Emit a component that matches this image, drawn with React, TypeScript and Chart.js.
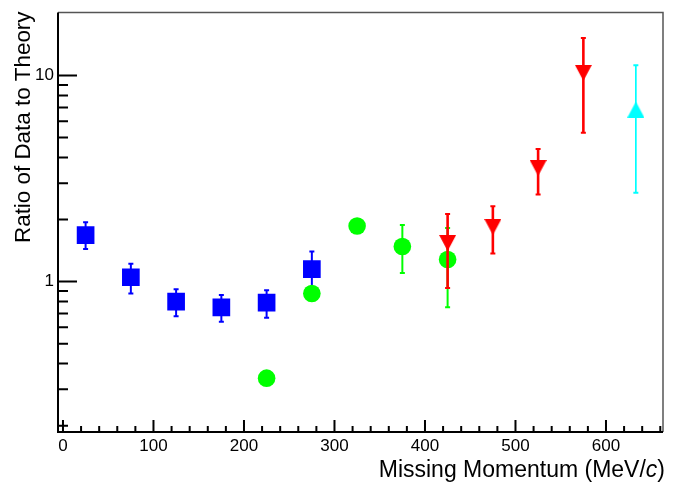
import { useEffect, useRef } from "react";
import { Chart, registerables } from "chart.js";

Chart.register(...registerables);

// Ratio of measured cross section to theory vs. missing momentum (MeV/c).
// Each series: bin centres, central ratio, lower and upper error limits.
const blueMomentum = [25, 75, 125, 175, 225, 275];
const blueRatio = [1.68, 1.05, 0.8, 0.75, 0.79, 1.15];
const blueLow = [1.44, 0.876, 0.679, 0.638, 0.667, 0.94];
const blueHigh = [1.94, 1.22, 0.918, 0.86, 0.909, 1.4];

const greenMomentum = [225, 275, 325, 375, 425];
const greenRatio = [0.34, 0.876, 1.86, 1.48, 1.28];
const greenLow = [0.34, 0.876, 1.86, 1.1, 0.75];
const greenHigh = [0.34, 0.876, 1.86, 1.88, 1.82];

const redMomentum = [425, 475, 525, 575];
const redRatio = [1.54, 1.84, 3.56, 10.3];
const redLow = [0.93, 1.37, 2.65, 5.27];
const redHigh = [2.13, 2.32, 4.4, 15.2];

const cyanMomentum = [633];
const cyanRatio = [6.84];
const cyanLow = [2.7];
const cyanHigh = [11.2];

// Axis ticks
const xMajorTicks = [0, 100, 200, 300, 400, 500, 600];
const xMinorStep = 20;
const yMajorTicks = [1, 10];
const yMinorTicks = [0.2, 0.3, 0.4, 0.5, 0.6, 0.7, 0.8, 0.9, 2, 3, 4, 5, 6, 7, 8, 9];

const X_MIN = -5.5;
const X_MAX = 663;
const Y_MIN = 0.1863;
const Y_MAX = 20.22;

const FONT = "'Liberation Sans', Arial, Helvetica, sans-serif";

function triangleMarker(color: string, pointingDown: boolean, w: number, h: number) {
  const c = document.createElement("canvas");
  c.width = w;
  c.height = h;
  const g = c.getContext("2d")!;
  g.fillStyle = color;
  g.beginPath();
  if (pointingDown) {
    g.moveTo(0, 0);
    g.lineTo(w, 0);
    g.lineTo(w / 2, h);
  } else {
    g.moveTo(w / 2, 0);
    g.lineTo(w, h);
    g.lineTo(0, h);
  }
  g.closePath();
  g.fill();
  return c;
}

function points(xs: number[], ys: number[]) {
  return xs.map((x, i) => ({ x, y: ys[i] }));
}

// Frame and inward-pointing ticks
const frameTicks = {
  id: "frameTicks",
  beforeDatasetsDraw(chart: any) {
    const { ctx, chartArea: a, scales } = chart;
    const xs = scales.x;
    const ys = scales.y;
    ctx.save();
    ctx.lineCap = "butt";

    ctx.strokeStyle = "#000";
    ctx.lineWidth = 2;
    ctx.beginPath();
    for (let v = 0; v <= X_MAX; v += xMinorStep) {
      const px = xs.getPixelForValue(v);
      const len = xMajorTicks.includes(v) ? 12 : 6;
      ctx.moveTo(px, a.bottom);
      ctx.lineTo(px, a.bottom - len);
    }
    for (const v of yMajorTicks) {
      const py = ys.getPixelForValue(v);
      ctx.moveTo(a.left, py);
      ctx.lineTo(a.left + 19, py);
    }
    for (const v of yMinorTicks) {
      const py = ys.getPixelForValue(v);
      ctx.moveTo(a.left, py);
      ctx.lineTo(a.left + 10, py);
    }
    ctx.stroke();

    ctx.strokeStyle = "#555";
    ctx.lineWidth = 1.5;
    ctx.beginPath();
    ctx.moveTo(a.left, a.top);
    ctx.lineTo(a.right, a.top);
    ctx.lineTo(a.right, a.bottom);
    ctx.stroke();

    ctx.strokeStyle = "#000";
    ctx.lineWidth = 2;
    ctx.beginPath();
    ctx.moveTo(a.left, a.top);
    ctx.lineTo(a.left, a.bottom);
    ctx.lineTo(a.right, a.bottom);
    ctx.stroke();
    ctx.restore();
  },
};

// Vertical error bars with end caps, drawn beneath each series' markers
const errorBars = {
  id: "errorBars",
  beforeDatasetDraw(chart: any, args: any) {
    const ds = chart.data.datasets[args.index];
    if (!ds.errLow) return;
    const { ctx } = chart;
    const xs = chart.scales.x;
    const ys = chart.scales.y;
    ctx.save();
    ctx.strokeStyle = ds.errColor;
    ctx.lineCap = "butt";
    ds.data.forEach((pt: any, i: number) => {
      const lo = ds.errLow[i];
      const hi = ds.errHigh[i];
      if (lo === hi) return;
      const px = xs.getPixelForValue(pt.x);
      const yLo = ys.getPixelForValue(lo);
      const yHi = ys.getPixelForValue(hi);
      ctx.lineWidth = ds.errWidth;
      ctx.beginPath();
      ctx.moveTo(px, yHi);
      ctx.lineTo(px, yLo);
      ctx.stroke();
      ctx.lineWidth = 2;
      ctx.beginPath();
      ctx.moveTo(px - 2.5, yHi);
      ctx.lineTo(px + 2.5, yHi);
      ctx.moveTo(px - 2.5, yLo);
      ctx.lineTo(px + 2.5, yLo);
      ctx.stroke();
    });
    ctx.restore();
  },
};

// Axis titles (x title carries an italic "c")
const axisTitles = {
  id: "axisTitles",
  afterDraw(chart: any) {
    const { ctx, chartArea: a } = chart;
    ctx.save();
    ctx.fillStyle = "#000";
    ctx.textBaseline = "alphabetic";

    const parts: [string, string][] = [
      ["Missing Momentum (MeV/", `23px ${FONT}`],
      ["c", `italic 23px ${FONT}`],
      [")", `23px ${FONT}`],
    ];
    let total = 0;
    const widths = parts.map(([t, f]) => {
      ctx.font = f;
      const w = ctx.measureText(t).width;
      total += w;
      return w;
    });
    let x = a.right + 2 - total;
    ctx.textAlign = "left";
    parts.forEach(([t, f], i) => {
      ctx.font = f;
      ctx.fillText(t, x, 477);
      x += widths[i];
    });

    ctx.font = `22.4px ${FONT}`;
    ctx.translate(29.5, a.top - 1);
    ctx.rotate(-Math.PI / 2);
    ctx.textAlign = "right";
    ctx.fillText("Ratio of Data to Theory", 0, 0);
    ctx.restore();
  },
};

export default function App() {
  const ref = useRef<HTMLCanvasElement>(null);

  useEffect(() => {
    const canvas = ref.current;
    if (!canvas) return;

    const datasets: any[] = [
      {
        label: "cyan",
        data: points(cyanMomentum, cyanRatio),
        errLow: cyanLow,
        errHigh: cyanHigh,
        errColor: "#00ffff",
        errWidth: 1.7,
        pointStyle: triangleMarker("#00ffff", false, 17, 16),
        pointRadius: 9,
        backgroundColor: "#00ffff",
        borderWidth: 0,
      },
      {
        label: "red",
        data: points(redMomentum, redRatio),
        errLow: redLow,
        errHigh: redHigh,
        errColor: "#ff0000",
        errWidth: 2.6,
        pointStyle: triangleMarker("#ff0000", true, 17, 16),
        pointRadius: 9,
        backgroundColor: "#ff0000",
        borderWidth: 0,
      },
      {
        label: "green",
        data: points(greenMomentum, greenRatio),
        errLow: greenLow,
        errHigh: greenHigh,
        errColor: "#00ff00",
        errWidth: 2,
        pointStyle: "circle",
        pointRadius: 8.8,
        backgroundColor: "#00ff00",
        borderWidth: 0,
      },
      {
        label: "blue",
        data: points(blueMomentum, blueRatio),
        errLow: blueLow,
        errHigh: blueHigh,
        errColor: "#0000ff",
        errWidth: 2,
        pointStyle: "rect",
        pointRadius: 12.5,
        backgroundColor: "#0000ff",
        borderWidth: 0,
      },
    ];

    const chart = new Chart(canvas, {
      type: "scatter",
      data: { datasets },
      options: {
        animation: false,
        responsive: false,
        devicePixelRatio: 1,
        layout: { padding: { top: 8, right: 18, left: 0, bottom: 0 } },
        plugins: { legend: { display: false }, tooltip: { enabled: false } },
        elements: { point: { hoverRadius: 0 } },
        scales: {
          x: {
            type: "linear",
            min: X_MIN,
            max: X_MAX,
            grid: { display: false, drawTicks: false },
            border: { display: false },
            afterBuildTicks: (s: any) => {
              s.ticks = xMajorTicks.map((v) => ({ value: v }));
            },
            afterFit: (s: any) => {
              s.height = 51;
              s.paddingLeft = 0;
              s.paddingRight = 0;
            },
            ticks: {
              autoSkip: false,
              maxRotation: 0,
              padding: 4,
              color: "#000",
              font: { family: FONT, size: 17 },
              callback: (v: any) => String(v),
            },
          },
          y: {
            type: "logarithmic",
            min: Y_MIN,
            max: Y_MAX,
            grid: { display: false, drawTicks: false },
            border: { display: false },
            afterBuildTicks: (s: any) => {
              s.ticks = yMajorTicks.map((v) => ({ value: v, major: true }));
            },
            afterFit: (s: any) => {
              s.width = 58;
              s.paddingTop = 0;
              s.paddingBottom = 0;
            },
            ticks: {
              autoSkip: false,
              padding: 4,
              color: "#000",
              font: { family: FONT, size: 17 },
              callback: (v: any) => String(v),
            },
          },
        },
      },
      plugins: [frameTicks, errorBars, axisTitles],
    });

    return () => chart.destroy();
  }, []);

  return (
    <div style={{ position: "fixed", left: 0, top: 0, width: 681, height: 483, background: "#fff" }}>
      <canvas ref={ref} width={681} height={483} style={{ display: "block" }} />
    </div>
  );
}
